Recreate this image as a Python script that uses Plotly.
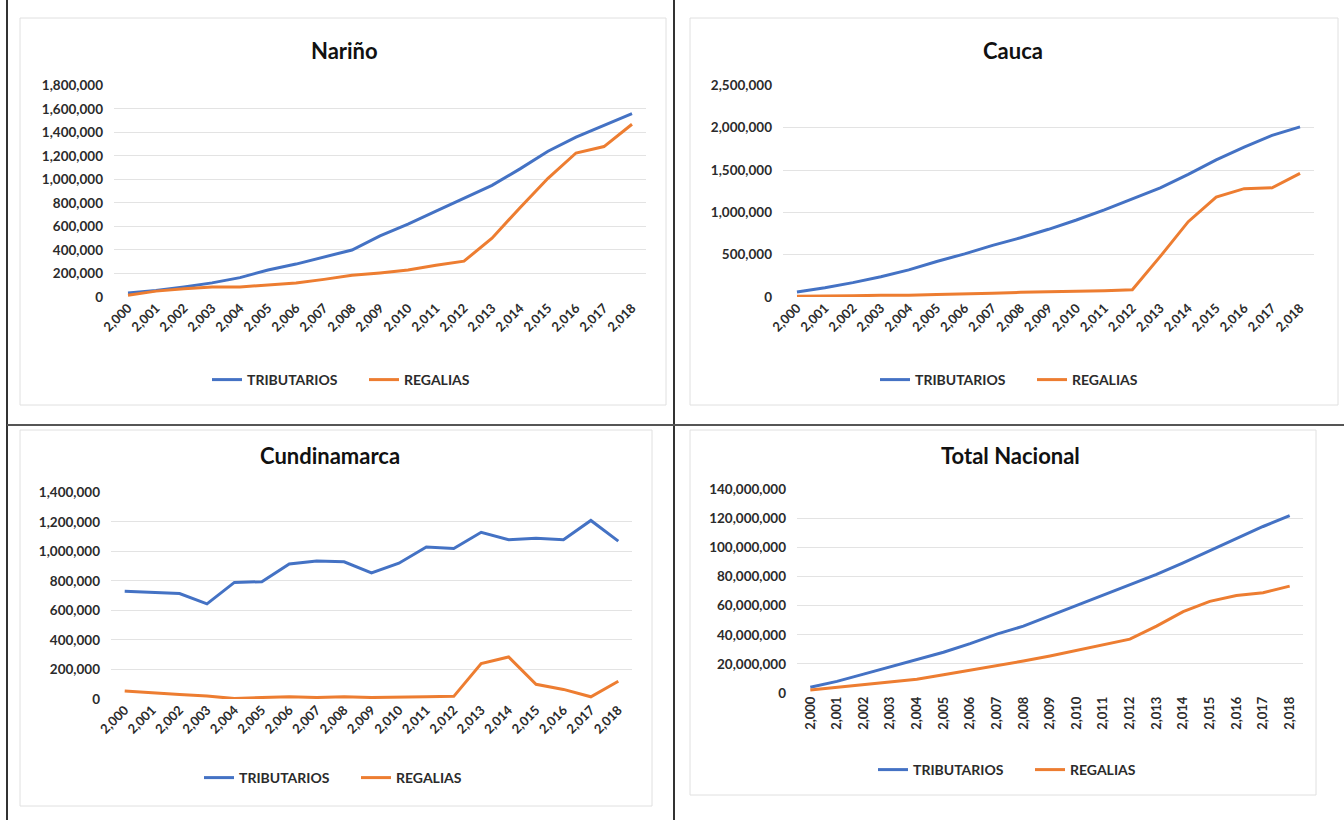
import plotly.graph_objects as go

W, H = 1344, 820

years = list(range(2000, 2019))

narino_trib = [35000, 55000, 85000, 120000, 165000, 230000, 280000, 340000, 400000, 520000,
               620000, 730000, 840000, 950000, 1090000, 1240000, 1360000, 1460000, 1560000]
narino_reg = [15000, 50000, 70000, 85000, 85000, 100000, 120000, 150000, 185000, 205000,
              230000, 270000, 305000, 500000, 760000, 1010000, 1225000, 1280000, 1470000]

cauca_trib = [60000, 110000, 170000, 240000, 320000, 420000, 510000, 610000, 700000, 800000,
              910000, 1030000, 1160000, 1290000, 1450000, 1620000, 1770000, 1910000, 2010000]
cauca_reg = [10000, 10000, 15000, 20000, 20000, 30000, 35000, 45000, 55000, 60000,
             70000, 75000, 85000, 480000, 890000, 1180000, 1280000, 1290000, 1460000]

cundi_trib = [730000, 725000, 715000, 645000, 790000, 795000, 915000, 935000, 930000, 855000,
              920000, 1030000, 1020000, 1130000, 1080000, 1090000, 1080000, 1210000, 1070000]
cundi_reg = [55000, 40000, 30000, 20000, 3000, 10000, 15000, 10000, 15000, 10000,
             10000, 15000, 18000, 240000, 285000, 100000, 65000, 15000, 120000]

total_trib = [4.0e6, 8.0e6, 13.0e6, 18.0e6, 22.5e6, 28.0e6, 34.0e6, 40.5e6, 46.0e6, 53.0e6,
              60.0e6, 67.0e6, 74.0e6, 81.5e6, 89.5e6, 98.0e6, 106.0e6, 114.5e6, 122.0e6]
total_reg = [2.0e6, 4.0e6, 5.5e6, 7.5e6, 9.5e6, 12.5e6, 15.5e6, 18.5e6, 22.0e6, 25.5e6,
             29.5e6, 33.5e6, 37.0e6, 46.0e6, 56.0e6, 63.0e6, 67.0e6, 69.0e6, 73.5e6]

BLUE = "#4472C4"
ORANGE = "#ED7D31"
FONT = "Lato"
TXT = "#2b2b2b"


def px(x):
    return x / W


def py(y):
    return 1 - y / H


# name, trib, reg, x pixel domain, y pixel domain (top, bottom), y max, y step, tick angle,
# title pos, legend pos, panel box
panels = [
    ("Nariño", narino_trib, narino_reg, (114, 646), (85, 297), 1800000, 200000, -45,
     (345, 50), (364, 380), (20, 18, 666, 405)),
    ("Cauca", cauca_trib, cauca_reg, (783, 1314), (85, 297), 2500000, 500000, -45,
     (1013, 50), (1032, 380), (690, 18, 1338, 405)),
    ("Cundinamarca", cundi_trib, cundi_reg, (111, 632), (492, 699), 1400000, 200000, -45,
     (330, 455), (356, 778), (20, 430, 652, 806)),
    ("Total Nacional", total_trib, total_reg, (797, 1303), (489, 693), 140000000, 20000000, -90,
     (1010, 455), (1030, 770), (690, 430, 1316, 795)),
]

fig = go.Figure()
layout = dict(
    width=W, height=H, margin=dict(l=0, r=0, t=0, b=0, pad=0), autosize=False,
    paper_bgcolor="white", plot_bgcolor="white",
    font=dict(family=FONT, color=TXT),
)
shapes = []
annotations = []

for i, (name, trib, reg, xd, yd, ymax, ystep, angle, tpos, lpos, box) in enumerate(panels):
    n = "" if i == 0 else str(i + 1)
    leg = "legend" if i == 0 else f"legend{i + 1}"
    fig.add_trace(go.Scatter(x=years, y=trib, mode="lines", name="TRIBUTARIOS",
                             line=dict(color=BLUE, width=3), xaxis="x" + n, yaxis="y" + n,
                             legend=leg))
    fig.add_trace(go.Scatter(x=years, y=reg, mode="lines", name="REGALIAS",
                             line=dict(color=ORANGE, width=3), xaxis="x" + n, yaxis="y" + n,
                             legend=leg))
    layout["xaxis" + n] = dict(
        domain=[px(xd[0]), px(xd[1])], anchor="y" + n, automargin=False,
        range=[1999.5, 2018.5], tickmode="array", tickvals=years,
        ticktext=[f"{y:,}" for y in years], tickangle=angle,
        showgrid=False, zeroline=False, showline=False, ticks="",
        tickfont=dict(family=FONT, size=13, color=TXT, weight="bold"),
    )
    layout["yaxis" + n] = dict(
        domain=[py(yd[1]), py(yd[0])], anchor="x" + n, automargin=False,
        range=[0, ymax * 1.002], dtick=ystep, tickformat=",d",
        showgrid=True, gridcolor="#e3e3e3", gridwidth=1, zeroline=False,
        showline=False, ticks="", ticklabelstandoff=10,
        tickfont=dict(family=FONT, size=13.5, color=TXT, weight="bold"),
    )
    layout[leg] = dict(
        orientation="h", x=px(lpos[0]), y=py(lpos[1]), xanchor="center", yanchor="middle",
        font=dict(family=FONT, size=14, color=TXT, weight="bold"),
        bgcolor="rgba(0,0,0,0)", itemwidth=30, entrywidth=112,
    )
    annotations.append(dict(
        text=f"<b>{name}</b>", x=px(tpos[0]), y=py(tpos[1]), xref="paper", yref="paper",
        showarrow=False, xanchor="center", yanchor="middle",
        font=dict(family=FONT, size=22, color="#111111"),
    ))
    shapes.append(dict(type="rect", xref="paper", yref="paper",
                       x0=px(box[0]), x1=px(box[2]), y0=py(box[3]), y1=py(box[1]),
                       line=dict(color="#e0e0e0", width=1)))

# dark separator lines of the page
shapes += [
    dict(type="line", xref="paper", yref="paper", x0=px(7), x1=px(7), y0=0, y1=1,
         line=dict(color="#333333", width=2)),
    dict(type="line", xref="paper", yref="paper", x0=px(674), x1=px(674), y0=0, y1=1,
         line=dict(color="#333333", width=2)),
    dict(type="line", xref="paper", yref="paper", x0=px(7), x1=1, y0=py(425), y1=py(425),
         line=dict(color="#555555", width=2)),
]

layout["shapes"] = shapes
layout["annotations"] = annotations
fig.update_layout(**layout)

# drop the default page margin so the figure sits at the window's corner
fig.write_html("out.html", config={"displayModeBar": False},
               post_script="document.body.style.margin='0';")
